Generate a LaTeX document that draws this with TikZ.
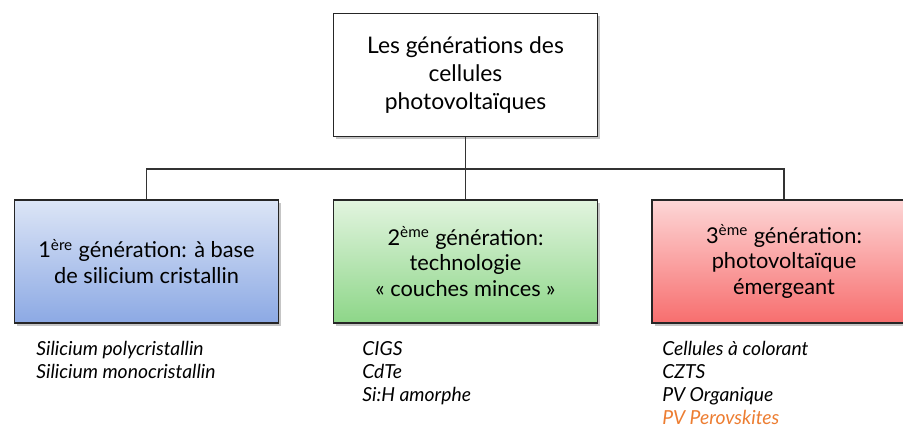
\documentclass[tikz,border=0pt]{standalone}
\usepackage{fontspec}
\setmainfont{Lato}
\usetikzlibrary{shadows}

\definecolor{bleuH}{HTML}{DCE5F6}
\definecolor{bleuB}{HTML}{8CA9E4}
\definecolor{vertH}{HTML}{E2F4DF}
\definecolor{vertB}{HTML}{8DD688}
\definecolor{rougeH}{HTML}{FDD6D6}
\definecolor{rougeB}{HTML}{F76E6E}
\definecolor{orangePV}{HTML}{ED7D31}

\tikzset{
  boite/.style={draw=black!85, line width=0.7pt, align=center,
    minimum width=5.28cm, minimum height=2.46cm, inner sep=2pt,
    drop shadow={shadow xshift=1.5pt, shadow yshift=-1.5pt, opacity=0.45},
    font=\fontsize{12.4}{14.6}\selectfont},
  liste/.style={anchor=north west, align=left, inner sep=0pt,
    font=\fontsize{11}{13}\selectfont\itshape},
  trait/.style={draw=black!80, line width=0.6pt}
}

\begin{document}
\begin{tikzpicture}[x=0.02cm, y=-0.02cm]
  \useasboundingbox[fill=white] (0,0) rectangle (903,428);

  % boite du haut
  \node[boite, fill=white, font=\fontsize{13}{16}\selectfont] (top) at (465.5,75)
    {Les générations des\\cellules\\photovoltaïques};

  % les trois generations
  \node[boite, top color=bleuH, bottom color=bleuB] (g1) at (146.5,261.5)
    {1\textsuperscript{ère} génération: à base\\de silicium cristallin};
  \node[boite, top color=vertH, bottom color=vertB] (g2) at (465.5,261.5)
    {2\textsuperscript{ème} génération:\\technologie\\« couches minces »};
  \node[boite, top color=rougeH, bottom color=rougeB] (g3) at (784,261.5)
    {3\textsuperscript{ème} génération:\\photovoltaïque\\émergeant};

  % liaisons
  \coordinate (bus) at (465.5,169);
  \draw[trait] (top.south) -- (bus);
  \draw[trait] (bus) -| (g1.north);
  \draw[trait] (bus) -- (g2.north);
  \draw[trait] (bus) -| (g3.north);

  % listes
  \node[liste] (l1) at (36,341)
    {Silicium polycristallin\\Silicium monocristallin};
  \node[liste] (l2) at (362,341)
    {CIGS\\CdTe\\Si:H amorphe};
  \node[liste] (l3) at (662,341)
    {Cellules à colorant\\CZTS\\PV Organique\\\textcolor{orangePV}{PV Perovskites}};
\end{tikzpicture}
\end{document}
